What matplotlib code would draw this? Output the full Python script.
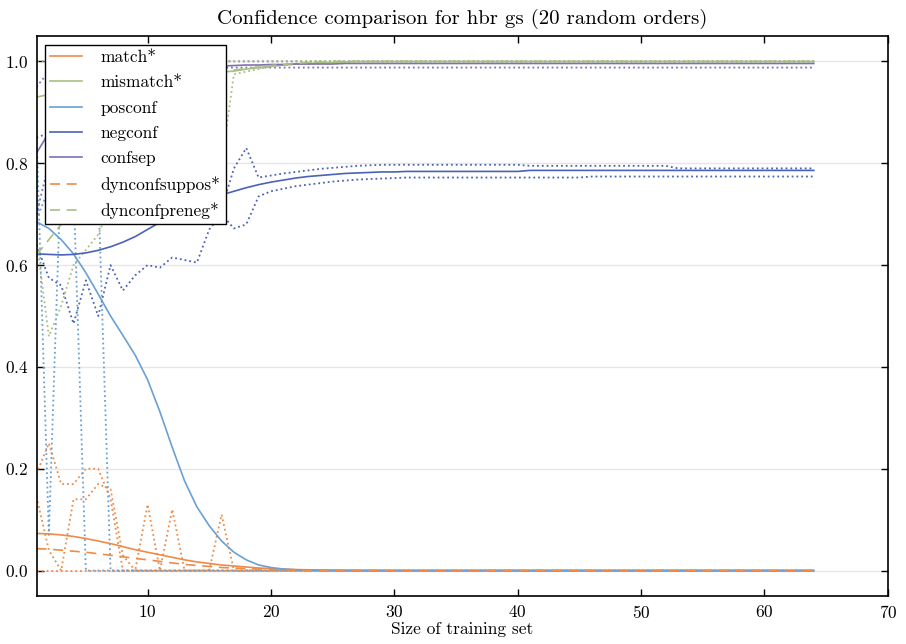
import matplotlib
matplotlib.use("Agg")
import matplotlib.pyplot as plt

plt.rcParams['font.family'] = 'cmr10'
plt.rcParams['mathtext.fontset'] = 'cm'
plt.rcParams['axes.formatter.use_mathtext'] = True
plt.rcParams['axes.unicode_minus'] = False

# training set sizes
sizes = list(range(1, 65))

# mean curves over the 20 random orders
match_mean = [.073, .072, .070, .067, .063, .058, .053, .047, .041, .036, .031, .026, .021, .017,
              .014, .011, .009, .007, .005, .004, .003, .002, .0015, .001, .0007, .0005, .0003,
              .0002] + [0.0] * 36
mismatch_mean = [.93, .935, .94, .945, .95, .955, .96, .963, .966, .969, .971, .973, .975, .977,
                 .978, .979, .981, .985, .988, .991, .993, .995, .996, .997, .998, .999] + [1.0] * 38
posconf_mean = [.685, .672, .650, .622, .585, .543, .50, .462, .423, .375, .312, .242, .176, .125,
                .088, .058, .036, .021, .011, .006, .003, .0015, .0007, .0003] + [0.0] * 40
negconf_mean = [.622, .621, .620, .621, .624, .629, .636, .645, .656, .670, .684, .697, .709, .720,
                .730, .738, .745, .752, .758, .763, .767, .771, .774, .776, .778, .780, .781, .782,
                .783, .783] + [.784] * 10 + [.786] * 24
confsep_mean = [.82, .86, .895, .925, .947, .962, .972, .978, .982, .985, .987, .988, .989, .990,
                .991, .991, .992, .993, .993, .994, .994, .995, .995, .995, .995] + [.996] * 39
suppos_mean = [.043, .042, .040, .038, .036, .033, .030, .027, .024, .021, .018, .015, .012, .010,
               .008, .006, .005, .004, .003, .002, .0015, .001, .0007, .0005, .0003, .0002] + [0.0] * 38
preneg_mean = [.62, .65, .68, .72, .76, .80, .84, .87, .90, .92, .94, .955, .965, .972, .977, .980,
               .983, .986, .989, .992, .994, .996, .998, .999] + [1.0] * 40

# spread curves (dotted)
match_hi = [.19, .25, .17, .17, .20, .20, .14, 0, 0, .13, 0, .12, 0, 0, 0, .11, 0] + [0.0] * 47
match_lo = [0.0] * 64
suppos_hi = [.145, .04, 0, .14, .14, .17, .16, .03] + [0.0] * 56
posconf_a = [.86, .07, .80, .75, 0] + [0.0] * 59
posconf_b = [.69, .75, .80, .80, .78, .75, 0] + [0.0] * 57
negconf_lo = [.64, .575, .56, .485, .57, .50, .60, .55, .58, .60, .595, .615, .61, .605, .67, .70,
              .672, .68, .735, .745, .75, .755, .758, .761, .764, .766, .768, .769, .77, .771] + \
             [.772] * 15 + [.774] * 19
negconf_hi = [.85, .86, .88, .90, .90, .90, .90, .88, .86, .84, .82, .80, .78, .75, .70, .71, .79,
              .83, .772, .776, .78, .783, .786, .789, .791, .793, .795, .796, .797, .797] + \
             [.797] * 10 + [.795] * 12 + [.79] * 12
confsep_lo = [.70, .80, .88, .93, .95, .96, .97, .975, .98, .982, .984, .985, .986, .987, .987,
              .988] + [.988] * 48
confsep_hi = [.95, .98, .99, .995] + [1.0] * 60
mismatch_lo = [.65, .46, .52, .60, .63, .66, .72, .73, .74, .75, .76, .77, .78, .79, .79, .80, .975,
               .98, .985, .99, .993, .995, .997, .998, .999] + [1.0] * 39
mismatch_hi = [1.0] * 64

c_orange = '#EE8B47'
c_green = '#A9BF80'
c_lblue = '#6AA0D4'
c_dblue = '#4A62B8'
c_purple = '#7E70B3'

fig = plt.figure(figsize=(9.06, 6.44), dpi=100)
ax = fig.add_axes([0.0403, 0.0745, 0.9397, 0.8696])

dot = dict(linestyle=':', linewidth=1.3)
ax.plot(sizes, match_hi, color=c_orange, **dot)
ax.plot(sizes, match_lo, color=c_orange, **dot)
ax.plot(sizes, suppos_hi, color=c_orange, **dot)
ax.plot(sizes, posconf_a, color=c_lblue, **dot)
ax.plot(sizes, posconf_b, color=c_lblue, **dot)
ax.plot(sizes, negconf_lo, color=c_dblue, **dot)
ax.plot(sizes, negconf_hi, color=c_dblue, **dot)
ax.plot(sizes, confsep_lo, color=c_purple, **dot)
ax.plot(sizes, confsep_hi, color=c_purple, **dot)
ax.plot(sizes, mismatch_lo, color=c_green, **dot)
ax.plot(sizes, mismatch_hi, color=c_green, **dot)

ax.plot(sizes, match_mean, color=c_orange, lw=1.2, label='match*')
ax.plot(sizes, mismatch_mean, color=c_green, lw=1.2, label='mismatch*')
ax.plot(sizes, posconf_mean, color=c_lblue, lw=1.2, label='posconf')
ax.plot(sizes, negconf_mean, color=c_dblue, lw=1.2, label='negconf')
ax.plot(sizes, confsep_mean, color=c_purple, lw=1.2, label='confsep')
ax.plot(sizes, suppos_mean, color=c_orange, lw=1.2, ls=(0, (6, 4)), label='dynconfsuppos*')
ax.plot(sizes, preneg_mean, color=c_green, lw=1.2, ls=(0, (6, 4)), label='dynconfpreneg*')

ax.set_xlim(1, 70)
ax.set_ylim(-0.05, 1.05)
ax.set_xticks([10, 20, 30, 40, 50, 60, 70])
ax.set_yticks([0.0, 0.2, 0.4, 0.6, 0.8, 1.0])
ax.yaxis.grid(True, color='#e6e6e6', lw=1)
ax.set_axisbelow(True)
ax.tick_params(direction='in', top=True, right=True, length=5, width=1, labelsize=12.5, pad=6)
for s in ax.spines.values():
    s.set_linewidth(1.2)

ax.set_title('Confidence comparison for hbr gs (20 random orders)', fontsize=15, pad=9)
ax.set_xlabel('Size of training set', fontsize=12.5, labelpad=0)

leg = ax.legend(loc='upper left', fontsize=12.5, fancybox=False, framealpha=1, edgecolor='black',
                borderaxespad=0.5, borderpad=0.3, handlelength=1.8, handletextpad=1.1,
                labelspacing=0.57)
leg.get_frame().set_linewidth(1.0)

fig.savefig('out.png', dpi=100)
